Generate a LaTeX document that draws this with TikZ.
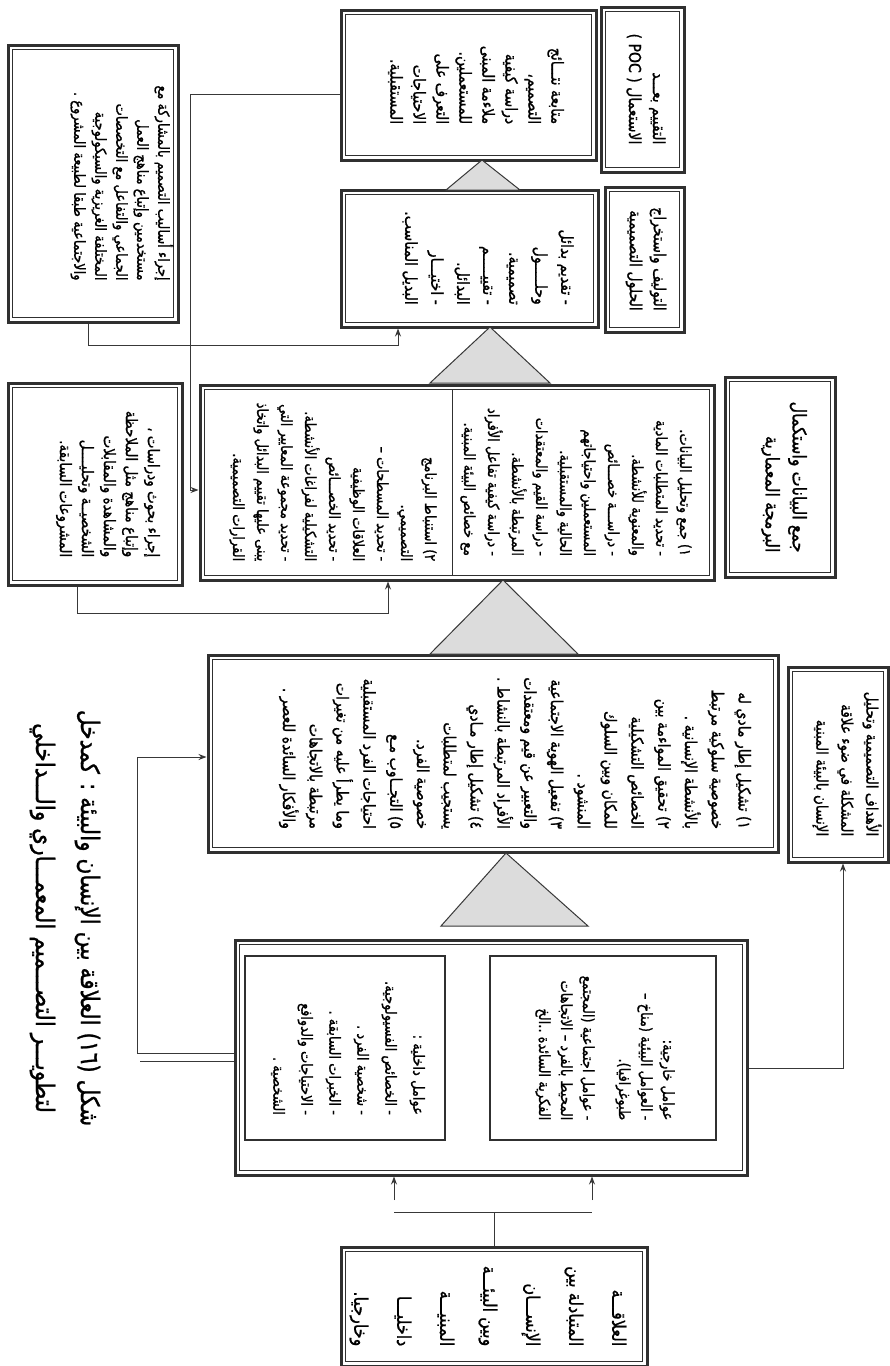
\documentclass[tikz,border=0pt]{standalone}
\usepackage{fontspec}
\newfontfamily\arabicfont[Script=Arabic,FakeStretch=0.85,FakeBold=1]{DejaVu Sans}
\TeXXeTstate=1
\usetikzlibrary{arrows.meta}
\newcommand\arl[1]{\beginR#1\endR}
\newcommand\afs[2]{\arabicfont\fontsize{#1}{#2}\selectfont}
\definecolor{fr}{HTML}{303030}
\definecolor{ln}{HTML}{383838}
\definecolor{trif}{HTML}{DCDCDC}
\begin{document}
\begin{tikzpicture}[x=1pt,y=-1pt,
 frame/.style={draw=fr, line width=3pt, inner sep=0pt,
   path picture={\draw[fr, line width=0.8pt]
     ([xshift=4.5pt,yshift=-4.5pt]path picture bounding box.north west) rectangle
     ([xshift=-4.5pt,yshift=4.5pt]path picture bounding box.south east);}},
 thinbox/.style={draw=fr, line width=1.2pt, inner sep=0pt},
 txt/.style={rotate=-90, align=right, inner sep=0pt},
 conn/.style={draw=ln, line width=1pt},
 arr/.style={conn, -{Stealth[length=8pt,width=6pt]}},
 tri/.style={draw=ln, line width=1pt, fill=trif},
]
\useasboundingbox[fill=white] (0,0) rectangle (890,1366);

% ---------- boxes ----------
\node[frame, minimum width=170pt, minimum height=277pt] (A) at (93,183.5) {};
\node[frame, minimum width=255pt, minimum height=150pt] (B) at (468.5,85) {};
\node[frame, minimum width=83pt, minimum height=165pt] (C) at (642.5,89.5) {};
\node[frame, minimum width=257pt, minimum height=137pt] (D) at (469.5,258.5) {};
\node[frame, minimum width=79pt, minimum height=145pt] (E) at (644.5,259.5) {};
\node[frame, minimum width=514pt, minimum height=195pt] (F) at (457,482.5) {};
\node[frame, minimum width=110pt, minimum height=200pt] (G) at (780,477) {};
\node[frame, minimum width=174pt, minimum height=202pt] (H) at (95,484) {};
\node[frame, minimum width=570pt, minimum height=197pt] (I) at (493,753.5) {};
\node[frame, minimum width=100pt, minimum height=195pt] (J) at (838,764.5) {};
\node[frame, minimum width=512pt, minimum height=235pt] (K) at (491,1057.5) {};
\node[thinbox, minimum width=226pt, minimum height=184pt] (K1) at (603,1048) {};
\node[thinbox, minimum width=200pt, minimum height=184pt] (K2) at (345,1048) {};
\node[frame, minimum width=306pt, minimum height=119pt] (L) at (494,1306.5) {};

% divider in data box
\draw[fr, line width=0.8pt] (452,389.5) -- (452,575.5);

% ---------- triangles ----------
\draw[tri] (482,160) -- (520,190) -- (446,190) -- cycle;
\draw[tri] (490,327) -- (550,383) -- (430,383) -- cycle;
\draw[tri] (503,580) -- (578,654) -- (430,654) -- cycle;
\draw[tri] (506,853) -- (588,926) -- (441,926) -- cycle;

% ---------- texts ----------
\node[txt, font=\afs{15.3}{21}] (tA) at (122,183) {
\arl{إجراء أساليب التصميم بالمشاركة مع}\\
\arl{مستخدمين وإتباع مناهج العمل}\\
\arl{الجماعي والتفاعل مع التخصصات}\\
\arl{المختلفة الغريزية والسيكولوجية}\\
\arl{والاجتماعية طبقا لطبيعة المشروع .}};

\node[txt, font=\afs{16.5}{23}] (tB) at (476,85) {
\arl{متابعة نتـــائج}\\
\arl{التصميم،}\\
\arl{دراسة كيفية}\\
\arl{ملاءمة المبنى}\\
\arl{للمستعملين.}\\
\arl{التعرف على}\\
\arl{الاحتياجات}\\
\arl{المستقبلية.}};

\node[txt, font=\afs{16.5}{24}] (tC) at (646,89) {
\arl{التقييم بعـــد}\\
\arl{الاستعمال ( \beginL POC\endL{} )}};

\node[txt, font=\afs{16.5}{26}] (tD) at (488,258) {
\arl{- تقديم بدائل}\\
\arl{وحلـــــول}\\
\arl{تصميمية.}\\
\arl{- تقييـــــم}\\
\arl{البدائل.}\\
\arl{- اختيـــار}\\
\arl{البديل المناسب.}};

\node[txt, font=\afs{16.5}{24}] (tE) at (646,259) {
\arl{التوليف واستخراج}\\
\arl{الحلول التصميمية}};

\node[txt, font=\afs{15.3}{24}] (tF1) at (576,482) {
\arl{١) جمع وتحليل البيانات.}\\
\arl{- تحديد المتطلبات المادية}\\
\arl{والمعنوية للأنشطة.}\\
\arl{- دراســـة خصـــائص}\\
\arl{المستعملين واحتياجاتهم}\\
\arl{الحالية والمستقبلية.}\\
\arl{- دراسة القيم والمعتقدات}\\
\arl{المرتبطة بالأنشطة.}\\
\arl{- دراسة كيفية تفاعل الأفراد}\\
\arl{مع خصائص البيئة المبنية.}};

\node[txt, font=\afs{15.3}{24}] (tF2) at (333,482) {
\arl{٢) استنباط البرنامج}\\
\arl{التصميمي.}\\
\arl{- تحديد المسطحات –}\\
\arl{العلاقات الوظيفية}\\
\arl{- تحديد الخصـــائص}\\
\arl{التشكيلية لفراغات الأنشطة.}\\
\arl{- تحديد مجموعة المعايير التي}\\
\arl{يبنى عليها تقييم البدائل واتخاذ}\\
\arl{القرارات التصميمية.}};

\node[txt, font=\afs{18.8}{27}] (tG) at (784,477) {
\arl{جمع البيانات واستكمال}\\
\arl{البرمجة المعمارية}};

\node[txt, font=\afs{15.9}{22}] (tH) at (108,484) {
\arl{إجراء بحوث ودراسات ،}\\
\arl{وإتباع مناهج مثل الملاحظة}\\
\arl{والمشاهدة والمقابلات}\\
\arl{الشخصيــة وتحليــــل}\\
\arl{المشروعات السابقة.}};

\node[txt, font=\afs{16.5}{26.8}] (tI) at (515,753) {
\arl{١) تشكيل إطار مادي له}\\
\arl{خصوصية سلوكية مرتبط}\\
\arl{بالأنشطة الإنسانية .}\\
\arl{٢) تحقيق المواءمة بين}\\
\arl{الخصائص التشكيلية}\\
\arl{للمكان وبين السلوك}\\
\arl{المنشود .}\\
\arl{٣) تفعيل الهوية الاجتماعية}\\
\arl{والتعبير عن قيم ومعتقدات}\\
\arl{الأفراد المرتبطة بالنشاط .}\\
\arl{٤) تشكيل إطار مـادي}\\
\arl{يستجيب لمتطلبات}\\
\arl{خصوصية الفرد.}\\
\arl{٥) التجــاوب مـع}\\
\arl{احتياجات الفرد المستقبلية}\\
\arl{وما يطرأ عليه من تغيرات}\\
\arl{مرتبطة بالاتجاهات}\\
\arl{والأفكار السائدة للعصر .}};

\node[txt, font=\afs{15.9}{25}] (tJ) at (847,764) {
\arl{الأهداف التصميمية وتحليل}\\
\arl{المشكلة في ضوء علاقة}\\
\arl{الإنسان بالبيئة المبنية}};

\node[txt, font=\afs{15.3}{22}] (tK1) at (605,1048) {
\arl{عوامل خارجية:}\\
\arl{- العوامل البيئية (مناخ –}\\
\arl{طبوغرافيا).}\\[14pt]
\arl{- عوامل اجتماعية (المجتمع}\\
\arl{المحيط بالفرد – الاتجاهات}\\
\arl{الفكرية السائدة ..الخ}};

\node[txt, font=\afs{15.3}{28}] (tK2) at (348,1048) {
\arl{عوامل داخلية :}\\
\arl{- الخصائص الفسيولوجية.}\\
\arl{- شخصية الفرد .}\\
\arl{- الخبرات السابقة .}\\
\arl{- الاحتياجات والدوافع}\\
\arl{الشخصية .}};

\node[txt, font=\afs{18.8}{43}] (tL) at (488,1306) {
\arl{العلاقـــة}\\
\arl{المتبادلة بين}\\
\arl{الإنســـان}\\
\arl{وبين البيئـــة}\\
\arl{المبنيـــة}\\
\arl{داخليـــا}\\
\arl{وخارجيا.}};

\node[txt, align=center, font=\afs{25.5}{45}] (cap) at (65,918) {
\arl{شكل (١٦) العلاقة بين الإنسان والبيئة : كمدخل}\\
\arl{لتطويـــر التصـــميم المعمـــاري والـــداخلي}};

% ---------- connectors ----------
\coordinate (k1) at (190,94);
\coordinate (k2) at (190,490);
\draw[arr] (B.west |- k1) -- (k1) -- (k2) -- (F.west |- k2);

\coordinate (k3) at (88,345);
\coordinate (k4) at (398,345);
\draw[arr] (A.south -| k3) -- (k3) -- (k4) -- (D.south -| k4);

\coordinate (k5) at (77,613);
\coordinate (k6) at (388,613);
\draw[arr] (H.south -| k5) -- (k5) -- (k6) -- (F.south -| k6);

\coordinate (k7) at (137,1053);
\coordinate (k8) at (137,757);
\draw[arr] (K.west |- k7) -- (k7) -- (k8) -- (I.west |- k8);
\coordinate (k9) at (140,1061);
\draw[conn] (k9) -- (K.west |- k9);

\coordinate (k10) at (843,1068);
\draw[arr] (K.east |- k10) -- (k10) -- (J.south -| k10);

\coordinate (k11) at (494,1212);
\coordinate (k12) at (394,1212);
\coordinate (k13) at (592,1212);
\coordinate (k14) at (394,1200);
\coordinate (k15) at (592,1200);
\draw[conn] (L.north) -- (k11);
\draw[conn] (k12) -- (k13);
\draw[arr] (k14) -- (K.south -| k14);
\draw[arr] (k15) -- (K.south -| k15);
\end{tikzpicture}
\end{document}
